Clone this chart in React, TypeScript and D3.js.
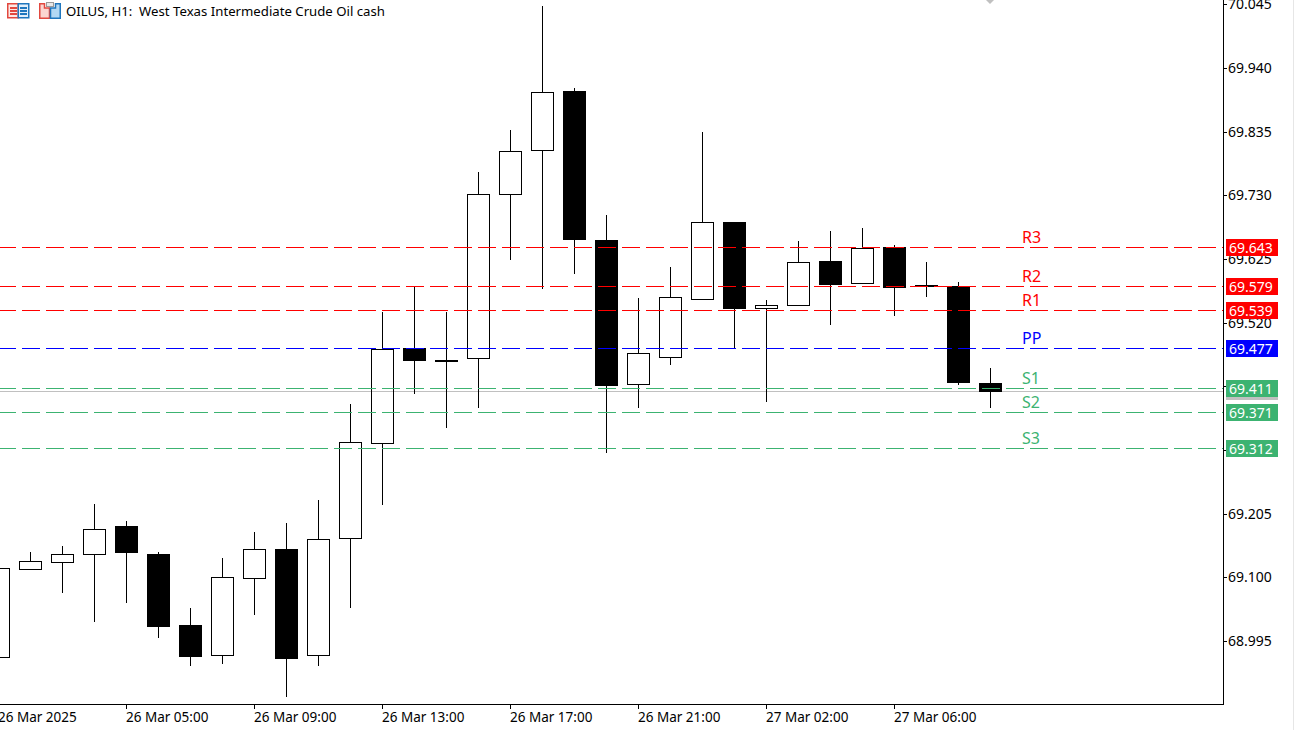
import { range, scaleBand, scaleLinear } from "d3";

const times = [
  "26 Mar 01:00", "26 Mar 02:00", "26 Mar 03:00", "26 Mar 04:00", "26 Mar 05:00", "26 Mar 06:00",
  "26 Mar 07:00", "26 Mar 08:00", "26 Mar 09:00", "26 Mar 10:00", "26 Mar 11:00", "26 Mar 12:00",
  "26 Mar 13:00", "26 Mar 14:00", "26 Mar 15:00", "26 Mar 16:00", "26 Mar 17:00", "26 Mar 18:00",
  "26 Mar 19:00", "26 Mar 20:00", "26 Mar 21:00", "26 Mar 22:00", "26 Mar 23:00", "27 Mar 01:00",
  "27 Mar 02:00", "27 Mar 03:00", "27 Mar 04:00", "27 Mar 05:00", "27 Mar 06:00", "27 Mar 07:00",
  "27 Mar 08:00", "27 Mar 09:00",
];

const opens = [
  68.967, 69.112, 69.124, 69.137, 69.183, 69.137, 69.02, 68.971, 69.097, 69.145, 68.971, 69.163,
  69.32, 69.477, 69.457, 69.46, 69.73, 69.803, 69.9, 69.655, 69.417, 69.462, 69.557, 69.684,
  69.543, 69.547, 69.62, 69.584, 69.643, 69.58, 69.579, 69.419,
];
const highs = [
  69.114, 69.14, 69.15, 69.219, 69.191, 69.14, 69.048, 69.13, 69.173, 69.188, 69.226, 69.384,
  69.536, 69.577, 69.536, 69.767, 69.836, 70.04, 69.905, 69.696, 69.559, 69.61, 69.833, 69.684,
  69.556, 69.653, 69.669, 69.674, 69.646, 69.618, 69.585, 69.444,
];
const lows = [
  68.967, 69.112, 69.074, 69.027, 69.058, 69.0, 68.954, 68.957, 69.038, 68.903, 68.954, 69.05,
  69.219, 69.402, 69.346, 69.379, 69.623, 69.575, 69.6, 69.305, 69.379, 69.45, 69.557, 69.477,
  69.389, 69.547, 69.516, 69.584, 69.531, 69.562, 69.417, 69.379,
];
const closes = [
  69.114, 69.125, 69.137, 69.178, 69.14, 69.018, 68.969, 69.099, 69.145, 68.966, 69.162, 69.322,
  69.475, 69.457, 69.455, 69.73, 69.801, 69.898, 69.656, 69.416, 69.468, 69.561, 69.684, 69.543,
  69.547, 69.618, 69.582, 69.641, 69.577, 69.579, 69.421, 69.406,
];

const priceTicks = [
  70.045, 69.94, 69.835, 69.73, 69.625, 69.52, 69.415, 69.31, 69.205, 69.1, 68.995,
];
const timeTicks = [
  "26 Mar 01:00", "26 Mar 05:00", "26 Mar 09:00", "26 Mar 13:00", "26 Mar 17:00", "26 Mar 21:00",
  "27 Mar 02:00", "27 Mar 06:00",
];
const timeTickLabels = [
  "26 Mar 2025", "26 Mar 05:00", "26 Mar 09:00", "26 Mar 13:00", "26 Mar 17:00", "26 Mar 21:00",
  "27 Mar 02:00", "27 Mar 06:00",
];

const levelNames = ["R3", "R2", "R1", "PP", "S1", "S2", "S3"];
const levelValues = [69.643, 69.579, 69.539, 69.477, 69.411, 69.371, 69.312];
const levelColors = ["#ff0000", "#ff0000", "#ff0000", "#0000ff", "#3cb371", "#3cb371", "#3cb371"];

const lastPrice = 69.406;

const width = 1294;
const height = 730;
const plotRight = 1223;
const plotBottom = 704;
const tagLeft = 1226;
const tagWidth = 52;
const tagHeight = 17;
const font = "'Noto Sans', sans-serif";

const x = scaleBand<string>().domain(times).range([-18, -18 + 32 * times.length]);
const y = scaleLinear().domain([70.045, 68.995]).range([3.6, 640.6]);

const center = (t: string) => (x(t) ?? 0) + x.bandwidth() / 2;
const row = (p: number) => Math.floor(y(p));
const tickRow = (p: number) => Math.ceil(y(p));

function Icons() {
  return (
    <g>
      <rect x="7.75" y="3.75" width="10.5" height="14" fill="#fde8e5" stroke="#e2483f" strokeWidth="1.5" />
      <rect x="18.25" y="3.75" width="10.5" height="14" fill="#e2effa" stroke="#1f76bd" strokeWidth="1.5" />
      {[7, 10, 13].map((d) => (
        <g key={d} shapeRendering="crispEdges">
          <rect x="10" y={d} width="7" height="2" fill="#e2483f" />
          <rect x="20" y={d} width="7" height="2" fill="#1f76bd" />
        </g>
      ))}
      <path d="M39.75 3.75H44.5V8H49.5V18.25H39.75Z" fill="#fbd5d0" stroke="#e2483f" strokeWidth="1.5" />
      <path d="M50.5 18.25V8H55.5V3.75H60.25V18.25Z" fill="#b3d8f3" stroke="#1f76bd" strokeWidth="1.5" />
      <rect x="46.5" y="2.5" width="7" height="4" fill="#e8e8e8" stroke="#9a9a9a" shapeRendering="crispEdges" />
    </g>
  );
}

export default function App() {
  return (
    <svg
      width={width}
      height={height}
      viewBox={`0 0 ${width} ${height}`}
      style={{ position: "absolute", left: 0, top: 0, background: "#fff" }}
      fontFamily={font}
    >
      <line x1={0} x2={plotRight} y1={row(lastPrice) + 0.5} y2={row(lastPrice) + 0.5} stroke="#c0c0c0" />

      {range(times.length).map((i) => {
        const cx = Math.floor(center(times[i])) + 0.5;
        const up = closes[i] > opens[i];
        const top = row(Math.max(opens[i], closes[i]));
        const bottom = row(Math.min(opens[i], closes[i]));
        return (
          <g key={times[i]} shapeRendering="crispEdges" stroke="#000">
            <line x1={cx} x2={cx} y1={row(highs[i])} y2={top} />
            <line x1={cx} x2={cx} y1={bottom} y2={row(lows[i]) + 1} />
            <rect
              x={cx - 11}
              y={top + 0.5}
              width={22}
              height={bottom - top}
              fill={up ? "none" : "#000"}
            />
          </g>
        );
      })}

      {levelValues.map((v, i) => (
        <g key={levelNames[i]}>
          <line
            x1={-2}
            x2={plotRight}
            y1={row(v) + 0.5}
            y2={row(v) + 0.5}
            stroke={levelColors[i]}
            strokeDasharray="18 6"
            shapeRendering="crispEdges"
          />
          <text x={1022} y={row(v) - 4} fontSize={16} fill={levelColors[i]}>
            {levelNames[i]}
          </text>
        </g>
      ))}

      <g shapeRendering="crispEdges" stroke="#000">
        <line x1={plotRight + 0.5} x2={plotRight + 0.5} y1={0} y2={plotBottom + 1} />
        <line x1={0} x2={plotRight + 1} y1={plotBottom + 0.5} y2={plotBottom + 0.5} />
        {priceTicks.map((t) => (
          <line key={t} x1={plotRight} x2={plotRight + 4} y1={tickRow(t) + 0.5} y2={tickRow(t) + 0.5} />
        ))}
        {timeTicks.map((t) => (
          <line
            key={t}
            x1={Math.floor(center(t)) + 0.5}
            x2={Math.floor(center(t)) + 0.5}
            y1={plotBottom}
            y2={plotBottom + 5}
          />
        ))}
      </g>
      <g fill="#000">
        {priceTicks.map((t) => (
          <text key={t} x={1228} y={tickRow(t) + 5} fontSize={14}>
            {t.toFixed(3)}
          </text>
        ))}
        {timeTicks.map((t, i) => (
          <text key={t} x={Math.floor(center(t))} y={722} fontSize={13.5}>
            {timeTickLabels[i]}
          </text>
        ))}
      </g>

      <rect
        x={tagLeft}
        y={row(lastPrice) - 8}
        width={tagWidth}
        height={tagHeight}
        fill="#c0c0c0"
        shapeRendering="crispEdges"
      />
      {levelValues.map((v, i) => (
        <g key={v}>
          <rect
            x={tagLeft}
            y={row(v) - 8}
            width={tagWidth}
            height={tagHeight}
            fill={levelColors[i]}
            shapeRendering="crispEdges"
          />
          <text x={1229} y={row(v) + 6} fontSize={14} fill="#fff">
            {v.toFixed(3)}
          </text>
        </g>
      ))}

      <Icons />
      <text x={66} y={16} fontSize={13.2} fill="#000">
        OILUS, H1:{"\u00a0\u00a0"}West Texas Intermediate Crude Oil cash
      </text>
      <path d="M986 0H994L990 4Z" fill="#c0c0c0" />
      <line x1={1293.5} x2={1293.5} y1={0} y2={height} stroke="#e6e6e6" />
    </svg>
  );
}
